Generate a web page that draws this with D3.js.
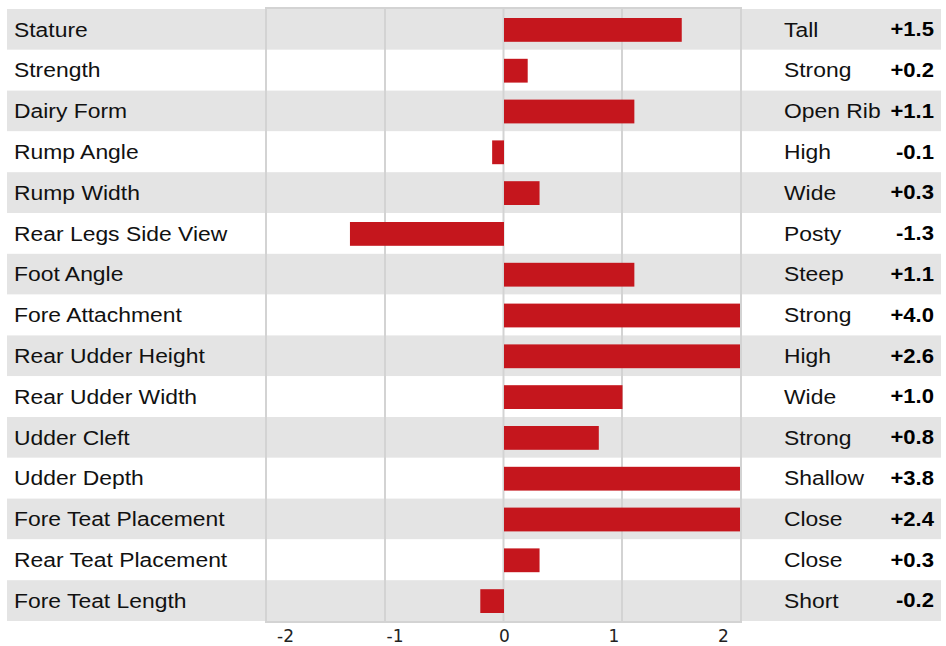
<!DOCTYPE html>
<html>
<head>
<meta charset="utf-8">
<script src="https://cdn.jsdelivr.net/npm/d3@7"></script>
<style>
  body { margin: 0; background: #fff; }
  svg { display: block; }
</style>
</head>
<body>
<div id="chart"></div>
<script>
// Traits, values and the word describing each positive/negative direction
const traits = ["Stature", "Strength", "Dairy Form", "Rump Angle", "Rump Width",
  "Rear Legs Side View", "Foot Angle", "Fore Attachment", "Rear Udder Height",
  "Rear Udder Width", "Udder Cleft", "Udder Depth", "Fore Teat Placement",
  "Rear Teat Placement", "Fore Teat Length"];
const values = [1.5, 0.2, 1.1, -0.1, 0.3, -1.3, 1.1, 4.0, 2.6, 1.0, 0.8, 3.8, 2.4, 0.3, -0.2];
const descriptors = ["Tall", "Strong", "Open Rib", "High", "Wide", "Posty", "Steep",
  "Strong", "High", "Wide", "Strong", "Shallow", "Close", "Close", "Short"];
const tickValues = [-2, -1, 0, 1, 2];

const width = 946, height = 646;
const rowsTop = 9, rowsBottom = 621;
const plotLeft = 266, plotRight = 740;

const svg = d3.select("#chart").append("svg")
  .attr("width", width)
  .attr("height", height);

const y = d3.scaleBand()
  .domain(traits)
  .range([rowsTop, rowsBottom])
  .paddingInner(0);

const x = d3.scaleLinear()
  .domain([-2, 2])
  .range([plotLeft, plotRight]);

// tick labels sit on a slightly narrower scale than the grid
const xLabel = d3.scaleLinear()
  .domain([-2, 2])
  .range([285, 723]);

// row stripes
svg.append("g").selectAll("rect")
  .data(traits)
  .join("rect")
  .attr("x", 7)
  .attr("y", d => y(d))
  .attr("width", 934)
  .attr("height", y.bandwidth())
  .attr("fill", (d, i) => i % 2 === 0 ? "#e4e4e4" : "#ffffff");

// grid lines
svg.append("g").selectAll("line")
  .data([-1, 0, 1])
  .join("line")
  .attr("x1", d => x(d) + 0.5)
  .attr("x2", d => x(d) + 0.5)
  .attr("y1", 8)
  .attr("y2", 622)
  .attr("stroke", "#d3d3d3")
  .attr("stroke-width", 2);

// bars, clipped to the plot
const clamp = v => Math.max(-2, Math.min(2, v));
svg.append("g").selectAll("rect")
  .data(traits)
  .join("rect")
  .attr("x", (d, i) => x(Math.min(0, clamp(values[i]))) + 1)
  .attr("y", d => y(d) + 9)
  .attr("width", (d, i) => Math.abs(x(clamp(values[i])) - x(0)))
  .attr("height", y.bandwidth() - 17)
  .attr("fill", "#c5161d");

// frame
svg.append("rect")
  .attr("x", plotLeft)
  .attr("y", 8)
  .attr("width", plotRight - plotLeft + 1)
  .attr("height", 614)
  .attr("fill", "none")
  .attr("stroke", "#d3d3d3")
  .attr("stroke-width", 2);

const font = "Liberation Sans, Arial, sans-serif";

// text column helper: glyphs in the reference are a bit wider than Liberation Sans
function textColumn(left, stretch, texts, anchor, weight) {
  svg.append("g")
    .attr("transform", `translate(${left}, 0) scale(${stretch}, 1)`)
    .selectAll("text")
    .data(traits)
    .join("text")
    .attr("x", 0)
    .attr("y", d => y(d) + y.bandwidth() / 2)
    .attr("dominant-baseline", "central")
    .attr("text-anchor", anchor)
    .attr("font-family", font)
    .attr("font-size", "21px")
    .attr("font-weight", weight)
    .attr("fill", weight === "bold" ? "#000" : "#111")
    .text((d, i) => texts[i]);
}

textColumn(14, 1.09, traits, "start", "normal");
textColumn(784, 1.09, descriptors, "start", "normal");
textColumn(934, 1.05, values.map(v => (v > 0 ? "+" : "") + v.toFixed(1)), "end", "bold");

// x axis labels
const xAxis = d3.axisBottom(xLabel)
  .tickValues(tickValues)
  .tickFormat(d => String(d))
  .tickSize(0)
  .tickPadding(0);

const axisG = svg.append("g")
  .attr("transform", "translate(0, 630)")
  .call(xAxis)
  .attr("font-family", "DejaVu Sans, Verdana, sans-serif")
  .attr("font-size", 17);
axisG.select(".domain").remove();
axisG.selectAll("text")
  .attr("fill", "#222")
  .attr("dy", "0.71em");
</script>
</body>
</html>
